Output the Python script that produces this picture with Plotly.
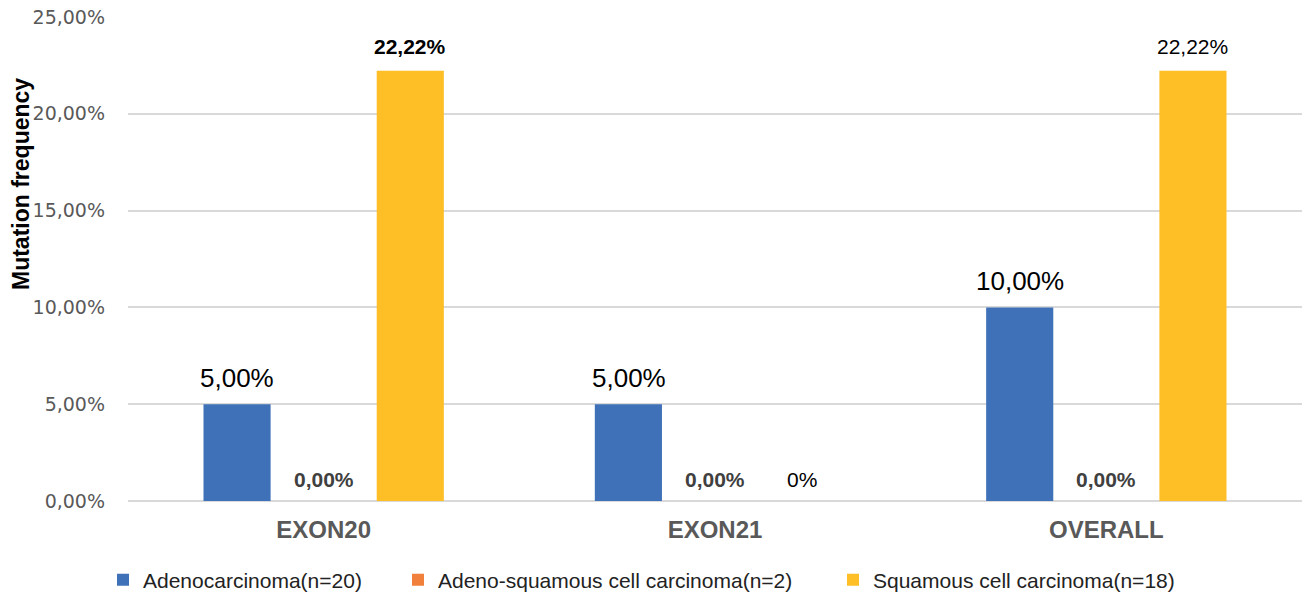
import plotly.graph_objects as go

categories = ["EXON20", "EXON21", "OVERALL"]
series_names = ["Adenocarcinoma(n=20)", "Adeno-squamous cell carcinoma(n=2)", "Squamous cell carcinoma(n=18)"]
adeno = [5.00, 5.00, 10.00]
adeno_squamous = [0.00, 0.00, 0.00]
squamous = [22.22, 0.00, 22.22]
series_values = [adeno, adeno_squamous, squamous]
colors = ["#3F71B8", "#F0803C", "#FDBE26"]

# label decimals / style per point
label_decimals = [[2, 2, 2], [2, 2, 2], [2, 0, 2]]
label_bold = [[False, False, False], [True, True, True], [True, False, False]]
label_size = [[26, 26, 26], [21, 21, 21], [21, 21, 21]]
label_color = [["#000000"] * 3, ["#404040"] * 3, ["#000000"] * 3]

y_ticks = [0, 5, 10, 15, 20, 25]
y_tick_text = ["0,00%", "5,00%", "10,00%", "15,00%", "20,00%", "25,00%"]


def fmt(v, d):
    return f"{v:.{d}f}".replace(".", ",") + "%"


FONT = "Liberation Sans, Arial, sans-serif"
TICKFONT = "DejaVu Sans, sans-serif"

W, H = 1305, 594
ML, MR, MT, MB = 128, 3, 17, 93
PW = W - ML - MR

legend_sq_centers = [128, 423, 858]
legend_names = ["legend", "legend2", "legend3"]

fig = go.Figure()
for name, vals, col, lg in zip(series_names, series_values, colors, legend_names):
    fig.add_trace(go.Bar(x=categories, y=vals, name=name, marker_color=col,
                         marker_line_width=0, hoverinfo="skip", legend=lg))

slot = 86.5
annotations = []
for i, vals in enumerate(series_values):
    for j, cat in enumerate(categories):
        t = fmt(vals[j], label_decimals[i][j])
        if label_bold[i][j]:
            t = "<b>" + t + "</b>"
        ys = 26 if label_size[i][j] > 23 else (22 if vals[j] == 0 else 24)
        annotations.append(dict(
            x=cat, y=vals[j], xref="x", yref="y", text=t, showarrow=False,
            xanchor="center", yanchor="middle", xshift=(i - 1) * slot,
            yshift=ys,
            font=dict(family=FONT, size=label_size[i][j], color=label_color[i][j])))

annotations.append(dict(
    x=(21 - ML) / PW, y=1 - (184 - MT) / (H - MT - MB), xref="paper", yref="paper",
    text="<b>Mutation frequency</b>",
    showarrow=False, textangle=-90, xanchor="center", yanchor="middle",
    font=dict(family=FONT, size=23, color="#000000")))

layout_legends = {}
for lg, sq in zip(legend_names, legend_sq_centers):
    layout_legends[lg] = dict(
        orientation="h", xref="container", yref="container",
        x=(sq - 25) / W, xanchor="left", y=(H - 580) / H, yanchor="middle",
        font=dict(family=FONT, size=21, color="#222222"),
        itemclick=False, itemdoubleclick=False, bgcolor="rgba(0,0,0,0)",
        borderwidth=0)

fig.update_layout(
    width=W, height=H,
    margin=dict(l=ML, r=MR, t=MT, b=MB, pad=0),
    paper_bgcolor="white", plot_bgcolor="white",
    barmode="group", bargap=0.336, bargroupgap=0.225,
    font=dict(family=FONT, color="#595959"),
    showlegend=True,
    annotations=annotations,
    **layout_legends,
)

fig.update_xaxes(showgrid=False, showline=False, ticks="", automargin=False,
                 tickfont=dict(family=FONT, size=24, color="#595959"),
                 tickprefix="<b>", ticksuffix="</b>", ticklabelstandoff=12)
fig.update_yaxes(range=[0, 25], tickvals=y_ticks, ticktext=y_tick_text, automargin=False,
                 showgrid=True, gridcolor="#D9D9D9", gridwidth=2,
                 zeroline=True, zerolinecolor="#D9D9D9", zerolinewidth=2,
                 showline=False, ticks="", ticklabelstandoff=22,
                 tickfont=dict(family=TICKFONT, size=19, color="#595959"))

fig.write_html("out.html")
